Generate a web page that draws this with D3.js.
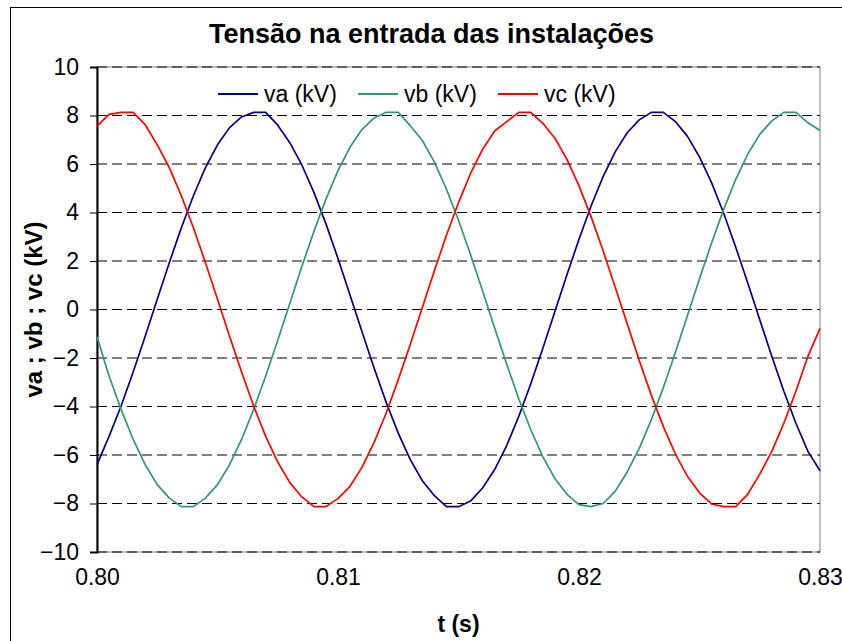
<!DOCTYPE html>
<html>
<head>
<meta charset="utf-8">
<script src="https://cdn.jsdelivr.net/npm/d3@7"></script>
<style>
  html, body { margin: 0; padding: 0; background: #fff; }
  svg { display: block; font-family: Arial, "Liberation Sans", sans-serif; }
</style>
</head>
<body>
<svg id="chart" width="842" height="641"></svg>
<script>
// ---- data ----
const time = [0.8000,0.8005,0.8010,0.8015,0.8020,0.8025,0.8030,0.8035,0.8040,0.8045,
  0.8050,0.8055,0.8060,0.8065,0.8070,0.8075,0.8080,0.8085,0.8090,0.8095,
  0.8100,0.8105,0.8110,0.8115,0.8120,0.8125,0.8130,0.8135,0.8140,0.8145,
  0.8150,0.8155,0.8160,0.8165,0.8170,0.8175,0.8180,0.8185,0.8190,0.8195,
  0.8200,0.8205,0.8210,0.8215,0.8220,0.8225,0.8230,0.8235,0.8240,0.8245,
  0.8250,0.8255,0.8260,0.8265,0.8270,0.8275,0.8280,0.8285,0.8290,0.8295,0.8300];

const va = [-6.40,-5.23,-3.98,-2.58,-1.10,0.42,1.93,3.37,4.69,5.85,
  6.79,7.50,7.94,8.13,8.13,7.60,6.88,5.96,4.83,3.53,
  2.10,0.59,-0.93,-2.42,-3.83,-5.10,-6.19,-7.06,-7.68,-8.13,
  -8.13,-7.90,-7.36,-6.60,-5.61,-4.41,-3.06,-1.60,-0.08,1.43,
  2.90,4.27,5.48,6.50,7.29,7.82,8.13,8.13,7.75,7.14,
  6.29,5.23,3.98,2.58,1.10,-0.42,-1.93,-3.37,-4.69,-5.85,-6.65];

const vb = [-1.12,-2.74,-4.12,-5.36,-6.40,-7.22,-7.78,-8.13,-8.13,-7.78,
  -7.22,-6.40,-5.36,-4.12,-2.74,-1.27,0.25,1.77,3.22,4.55,
  5.73,6.70,7.43,7.90,8.13,8.13,7.58,6.97,6.08,4.96,
  3.68,2.26,0.76,-0.76,-2.26,-3.68,-4.96,-6.08,-6.97,-7.62,
  -8.05,-8.13,-8.00,-7.50,-6.70,-5.73,-4.55,-3.22,-1.77,-0.25,
  1.27,2.74,4.12,5.36,6.40,7.22,7.78,8.13,8.13,7.70,7.38];

const vc = [7.56,8.05,8.13,8.13,7.62,6.79,5.85,4.69,3.37,1.93,
  0.42,-1.10,-2.58,-3.98,-5.23,-6.29,-7.14,-7.73,-8.13,-8.13,
  -7.80,-7.29,-6.50,-5.48,-4.27,-2.90,-1.43,0.08,1.60,3.06,
  4.41,5.61,6.60,7.36,7.75,8.13,8.13,7.68,7.06,6.19,
  5.10,3.83,2.42,0.93,-0.59,-2.10,-3.53,-4.83,-5.96,-6.88,
  -7.56,-8.02,-8.13,-8.13,-7.62,-6.79,-5.85,-4.69,-3.37,-1.93,-0.78];

const seriesNames = ["va (kV)", "vb (kV)", "vc (kV)"];
const seriesColors = ["#000080", "#339966", "#FF0000"];
const yTicks = [-10,-8,-6,-4,-2,0,2,4,6,8,10];
const xTicks = [0.80, 0.81, 0.82, 0.83];
const titleText = "Tensão na entrada das instalações";
const xTitle = "t (s)";
const yTitle = "va ; vb ; vc (kV)";

// ---- layout ----
const svg = d3.select("#chart");
const plot = { left: 97, right: 820, top: 67, bottom: 552 };
const x = d3.scaleLinear().domain([0.80, 0.83]).range([plot.left, plot.right]);
const y = d3.scaleLinear().domain([-10, 10]).range([plot.bottom, plot.top]);

// outer chart border
svg.append("rect").attr("x", 10.5).attr("y", 7.5).attr("width", 900).attr("height", 700)
  .attr("fill", "#fff").attr("stroke", "#000").attr("stroke-width", 1);

// plot area border (gray)
svg.append("rect").attr("x", plot.left).attr("y", plot.top)
  .attr("width", plot.right - plot.left).attr("height", plot.bottom - plot.top)
  .attr("fill", "#fff").attr("stroke", "#808080").attr("stroke-width", 1);

// gridlines
svg.append("g").selectAll("line").data(yTicks).join("line")
  .attr("x1", plot.left).attr("x2", plot.right)
  .attr("y1", d => y(d)).attr("y2", d => y(d))
  .attr("stroke", "#000").attr("stroke-width", 1).attr("stroke-dasharray", "10,5");

// y axis
const yAxis = svg.append("g").attr("transform", `translate(${plot.left},0)`)
  .call(d3.axisLeft(y).tickValues(yTicks).tickSize(7).tickPadding(11).tickFormat(d3.format("d")));
yAxis.select(".domain").attr("stroke", "#000").attr("stroke-width", 2);
yAxis.selectAll(".tick line").attr("stroke", "#000").attr("stroke-width", 1);
yAxis.selectAll("text").attr("font-size", 23).attr("fill", "#000")
  .attr("font-family", "Arial, 'Liberation Sans', sans-serif");

// x axis (labels only)
const xAxis = svg.append("g").attr("transform", `translate(0,${plot.bottom})`)
  .call(d3.axisBottom(x).tickValues(xTicks).tickSize(0).tickPadding(17).tickFormat(d3.format(".2f")));
xAxis.select(".domain").remove();
xAxis.selectAll("text").attr("font-size", 23).attr("fill", "#000")
  .attr("font-family", "Arial, 'Liberation Sans', sans-serif");

// series lines
const seriesData = [va, vb, vc];
const line = d3.line().x((d, i) => x(time[i])).y(d => y(d));
svg.append("g").selectAll("path").data(seriesData).join("path")
  .attr("d", d => line(d))
  .attr("fill", "none")
  .attr("stroke", (d, i) => seriesColors[i])
  .attr("stroke-width", 1.7)
  .attr("stroke-linejoin", "round");

// legend
const legend = svg.append("g").attr("transform", "translate(218,94)");
const items = legend.selectAll("g").data(seriesNames).join("g")
  .attr("transform", (d, i) => `translate(${i * 140},0)`);
items.append("line").attr("x1", 0).attr("x2", 40).attr("y1", 0).attr("y2", 0)
  .attr("stroke", (d, i) => seriesColors[i]).attr("stroke-width", 1.8);
items.append("text").attr("x", 46).attr("y", 8).attr("font-size", 23).attr("fill", "#000")
  .text(d => d);

// title
svg.append("text").attr("x", 431.5).attr("y", 43).attr("text-anchor", "middle")
  .attr("font-size", 27).attr("font-weight", "bold").text(titleText);

// axis titles
svg.append("text").attr("x", (plot.left + plot.right) / 2).attr("y", 632)
  .attr("text-anchor", "middle").attr("font-size", 23).attr("font-weight", "bold").text(xTitle);
svg.append("text").attr("transform", `translate(42,${(plot.top + plot.bottom) / 2}) rotate(-90)`)
  .attr("text-anchor", "middle").attr("font-size", 24).attr("font-weight", "bold").text(yTitle);
</script>
</body>
</html>
